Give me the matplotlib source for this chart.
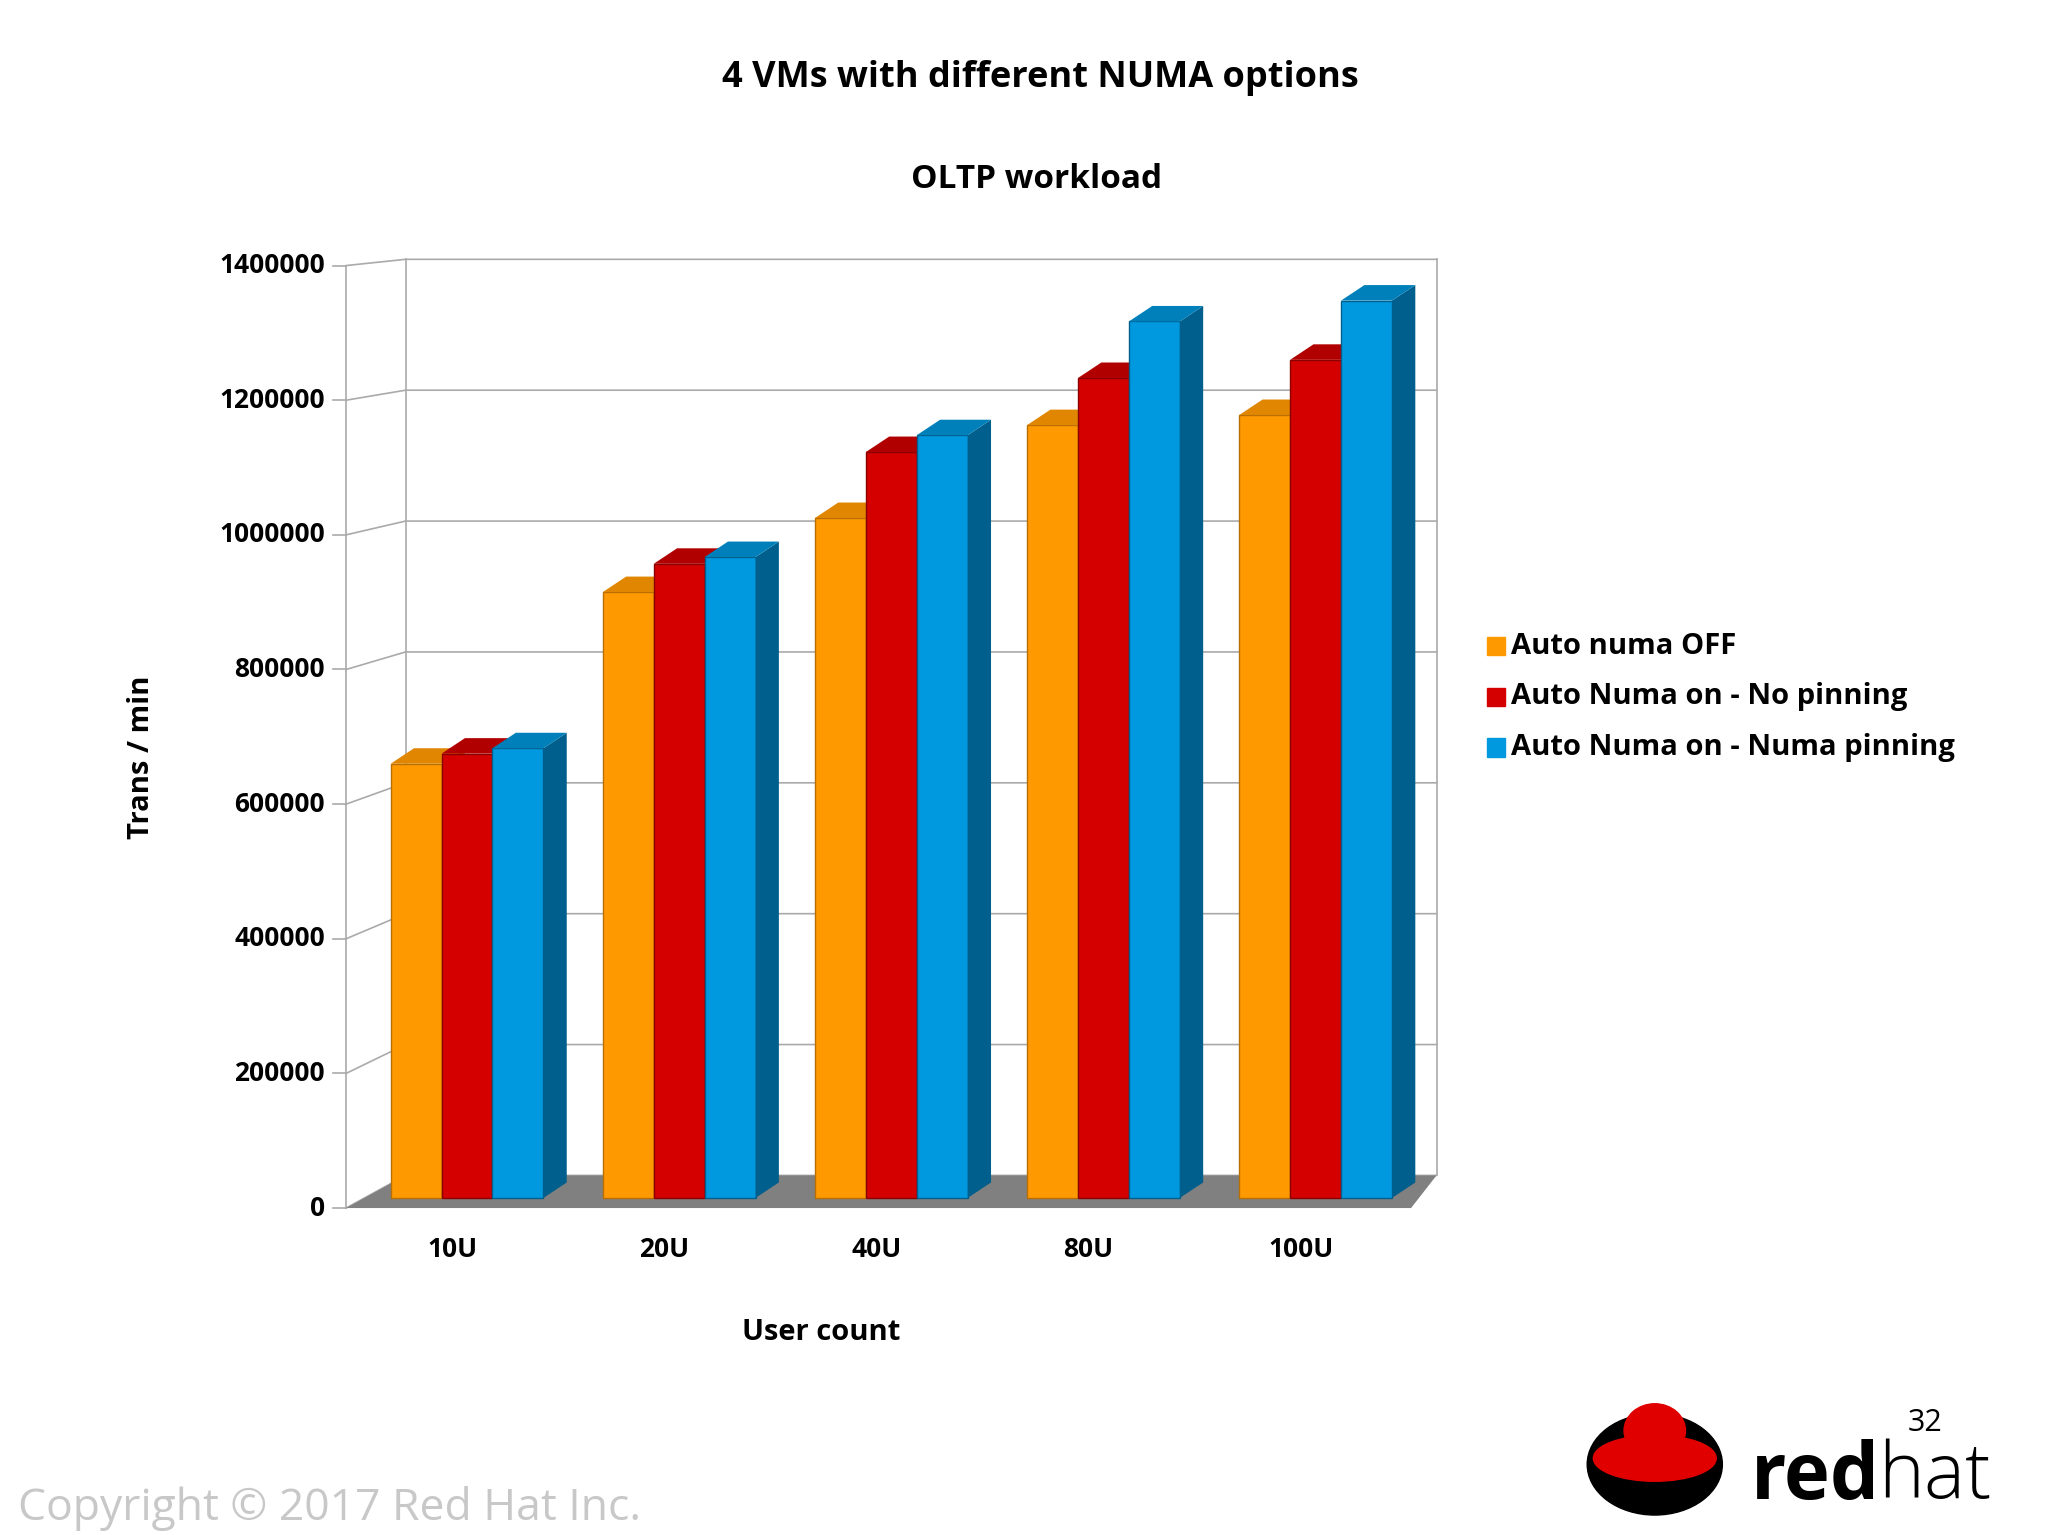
import matplotlib
matplotlib.use("Agg")
import matplotlib.pyplot as plt
from matplotlib.patches import Polygon, Circle, Ellipse
import numpy as np

categories = ["10U", "20U", "40U", "80U", "100U"]
series_names = ["Auto numa OFF", "Auto Numa on - No pinning", "Auto Numa on - Numa pinning"]
numa_off = [645000, 900000, 1010000, 1148000, 1163000]
no_pin = [660000, 942000, 1108000, 1218000, 1245000]
numa_pin = [668000, 952000, 1133000, 1302000, 1333000]
yticks = [0, 200000, 400000, 600000, 800000, 1000000, 1200000, 1400000]

colors = ["#ff9900", "#d40000", "#0099e0"]
sides = ["#b86e00", "#8a0000", "#005f8c"]
tops = ["#e08600", "#b00000", "#0080bb"]

plt.rcParams['font.family'] = ['Open Sans', 'DejaVu Sans']
fig = plt.figure(figsize=(20.48, 15.35), dpi=100)
ax = fig.add_axes([0.169, 0.213, 0.52, 0.614])
ax.set_xlim(-0.5, 4.52)
ax.set_ylim(0, 1400000)
for s in ax.spines.values():
    s.set_visible(False)
ax.set_xticks([])
ax.set_yticks([])

wdx, wdy, scale = 0.28, 48450, 0.972
def back(t):
    return wdy + t * scale
xr = 4.64
# back wall gridlines
for t in yticks:
    ax.plot([-0.5, -0.5 + wdx, xr], [t, back(t), back(t)], color="#aaaaaa", lw=1.2, clip_on=False, zorder=1)
    ax.plot([-0.56, -0.5], [t, t], color="#aaaaaa", lw=1.2, clip_on=False)
    ax.text(-0.6, t, f"{t}", ha="right", va="center", fontsize=19, fontweight="bold")
ax.plot([-0.5, -0.5], [0, 1400000], color="#aaaaaa", lw=1.2, clip_on=False)
ax.plot([-0.5 + wdx] * 2, [back(0), back(1400000)], color="#aaaaaa", lw=1.2, clip_on=False)
ax.plot([xr] * 2, [back(0), back(1400000)], color="#aaaaaa", lw=1.2, clip_on=False)
# floor
ax.add_patch(Polygon([[-0.5, 0], [4.52, 0], [xr, back(0)], [-0.5 + wdx, back(0)]], closed=True,
                     facecolor="#808080", edgecolor="none", clip_on=False, zorder=2))

bw = 0.24
dx, dy = 0.11, 23000
base = 15000
x = np.arange(len(categories))
for i, vals in enumerate([numa_off, no_pin, numa_pin]):
    xs = x + (i - 1) * bw + 0.07
    ax.bar(xs, vals, width=bw, color=colors[i], edgecolor=sides[i], lw=1, zorder=3 + i, bottom=base)
    for xc, v in zip(xs, vals):
        l, r = xc - bw / 2, xc + bw / 2
        top = v + base
        ax.add_patch(Polygon([[r, base], [r + dx, base + dy], [r + dx, top + dy], [r, top]],
                             facecolor=sides[i], edgecolor="none", zorder=3 + i, clip_on=False))
        ax.add_patch(Polygon([[l, top], [r, top], [r + dx, top + dy], [l + dx, top + dy]],
                             facecolor=tops[i], edgecolor="none", zorder=3 + i, clip_on=False))

for xc, c in zip(x, categories):
    ax.text(xc, -62000, c, ha="center", va="center", fontsize=19, fontweight="bold")

fig.text(0.508, 0.949, "4 VMs with different NUMA options", ha="center", va="center", fontsize=26, fontweight="bold")
fig.text(0.506, 0.883, "OLTP workload", ha="center", va="center", fontsize=24, fontweight="bold")
fig.text(0.401, 0.132, "User count", ha="center", va="center", fontsize=21, fontweight="bold")
fig.text(0.069, 0.507, "Trans / min", ha="center", va="center", fontsize=21, fontweight="bold", rotation=90)

for i, name in enumerate(series_names):
    yy = 0.579 - i * 0.033
    fig.patches.append(plt.Rectangle((0.726, yy - 0.006), 0.009, 0.012, transform=fig.transFigure, color=colors[i]))
    fig.text(0.738, yy, name, ha="left", va="center", fontsize=21, fontweight="bold")

fig.text(0.009, 0.017, "Copyright © 2017 Red Hat Inc.", ha="left", va="center", fontsize=32, color="#c8c8c8")
fig.text(0.94, 0.073, "32", ha="center", va="center", fontsize=22)
fig.patches.append(Circle((0.808, 0.046), 0.033, transform=fig.transFigure, color="black"))
fig.patches.append(Ellipse((0.808, 0.05), 0.06, 0.03, transform=fig.transFigure, color="#e00000"))
fig.patches.append(Ellipse((0.808, 0.068), 0.03, 0.035, transform=fig.transFigure, color="#e00000"))
fig.text(0.855, 0.037, "red", ha="left", va="center", fontsize=56, fontweight="bold")
fig.text(0.917, 0.037, "hat", ha="left", va="center", fontsize=56, fontweight="light")

fig.savefig("out.png", dpi=100)
